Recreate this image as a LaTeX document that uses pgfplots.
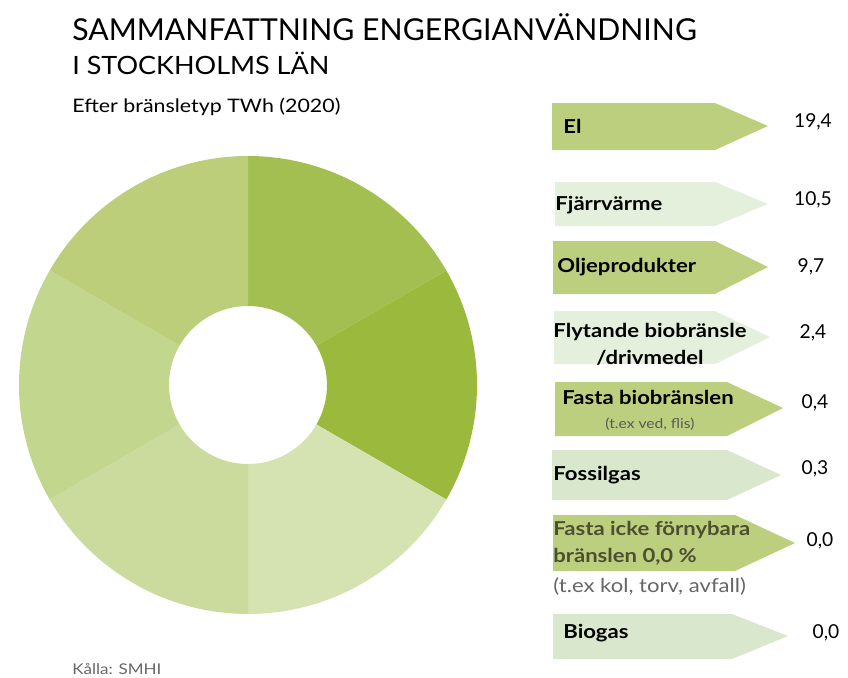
\documentclass[border=0pt]{standalone}
\usepackage{pgfplots}
\pgfplotsset{compat=1.18}
\usepackage{fontspec}
\setmainfont{Lato}
\newfontfamily\wide[FakeStretch=1.15]{Lato}
\newfontfamily\sub[FakeStretch=1.07]{Lato}
\usetikzlibrary{calc}
% donut segments, clockwise from 12 o'clock
\definecolor{segA}{HTML}{A3BF51}
\definecolor{segB}{HTML}{9BB93D}
\definecolor{segC}{HTML}{D5E3B2}
\definecolor{segD}{HTML}{CBDB9E}
\definecolor{segE}{HTML}{C3D68D}
\definecolor{segF}{HTML}{BCCE7A}
% arrow fills
\definecolor{arrDark}{HTML}{BCCF7F}
\definecolor{arrPale}{HTML}{E5F0DC}
\definecolor{arrLight}{HTML}{D9E8CC}
\definecolor{oliveText}{HTML}{4D5030}

\newcommand{\lab}{\wide\fontsize{9.6}{13.5}\selectfont\bfseries}
\newcommand{\val}{\fontsize{9.6}{12}\selectfont}

\begin{document}
\begin{tikzpicture}
\begin{axis}[
  x=0.5pt, y=0.5pt,
  xmin=0, xmax=848, ymin=0, ymax=677,
  scale only axis, hide axis, clip=false,
]
\path (axis cs:0,0) rectangle (axis cs:848,677);

% ---- donut: six equal segments
\coordinate (C) at (axis cs:248,292);
\fill[segA] ($(C)+(90:114.5pt)$) arc[start angle=90,end angle=30,radius=114.5pt]
  -- ($(C)+(30:39.5pt)$) arc[start angle=30,end angle=90,radius=39.5pt] -- cycle;
\fill[segB] ($(C)+(30:114.5pt)$) arc[start angle=30,end angle=-30,radius=114.5pt]
  -- ($(C)+(-30:39.5pt)$) arc[start angle=-30,end angle=30,radius=39.5pt] -- cycle;
\fill[segC] ($(C)+(-30:114.5pt)$) arc[start angle=-30,end angle=-90,radius=114.5pt]
  -- ($(C)+(-90:39.5pt)$) arc[start angle=-90,end angle=-30,radius=39.5pt] -- cycle;
\fill[segD] ($(C)+(-90:114.5pt)$) arc[start angle=-90,end angle=-150,radius=114.5pt]
  -- ($(C)+(-150:39.5pt)$) arc[start angle=-150,end angle=-90,radius=39.5pt] -- cycle;
\fill[segE] ($(C)+(210:114.5pt)$) arc[start angle=210,end angle=150,radius=114.5pt]
  -- ($(C)+(150:39.5pt)$) arc[start angle=150,end angle=210,radius=39.5pt] -- cycle;
\fill[segF] ($(C)+(150:114.5pt)$) arc[start angle=150,end angle=90,radius=114.5pt]
  -- ($(C)+(90:39.5pt)$) arc[start angle=90,end angle=150,radius=39.5pt] -- cycle;

% ---- arrow tags
\addplot[draw=none, fill=arrDark]  coordinates {(552,574) (715,574) (768,551) (715,527) (552,527)} -- cycle;
\addplot[draw=none, fill=arrPale]  coordinates {(555,495) (715,495) (768,473) (715,451) (555,451)} -- cycle;
\addplot[draw=none, fill=arrDark]  coordinates {(553,436) (715,436) (768,410) (715,383) (553,383)} -- cycle;
\addplot[draw=none, fill=arrPale]  coordinates {(554,366) (715,366) (770,340) (715,313) (554,313)} -- cycle;
\addplot[draw=none, fill=arrDark]  coordinates {(555,295) (727,295) (783,269) (727,241) (555,241)} -- cycle;
\addplot[draw=none, fill=arrLight] coordinates {(552,227) (727,227) (781,202) (727,177) (552,177)} -- cycle;
\addplot[draw=none, fill=arrDark]  coordinates {(553,162) (735,162) (795,134) (735,106) (553,106)} -- cycle;
\addplot[draw=none, fill=arrLight] coordinates {(553,63) (732,63) (788,41) (732,18) (553,18)} -- cycle;

% ---- labels
\node[anchor=west, inner sep=0pt, font=\lab] at (axis cs:563,551) {El};
\node[anchor=west, inner sep=0pt, font=\lab] at (axis cs:555,472) {Fjärrvärme};
\node[anchor=west, inner sep=0pt, font=\lab] at (axis cs:557,410) {Oljeprodukter};
\node[align=center, font=\lab] at (axis cs:650,333) {Flytande biobränsle\\/drivmedel};
\node[font=\lab] at (axis cs:648,280) {Fasta biobränslen};
\node[font=\wide\fontsize{6.8}{8}\selectfont, text=black!65] at (axis cs:650,253) {(t.ex ved, flis)};
\node[anchor=west, inner sep=0pt, font=\lab] at (axis cs:553,202) {Fossilgas};
\node[anchor=west, inner sep=0pt, align=left, font=\lab, text=oliveText] at (axis cs:553,134) {Fasta icke förnybara\\bränslen 0,0 \%};
\node[anchor=west, inner sep=0pt, font=\wide\fontsize{9.6}{12}\selectfont, text=black!60] at (axis cs:553,91) {(t.ex kol, torv, avfall)};
\node[anchor=west, inner sep=0pt, font=\lab] at (axis cs:563,44) {Biogas};

% ---- values (TWh)
\node[font=\val] at (axis cs:813,555) {19,4};
\node[font=\val] at (axis cs:813,477) {10,5};
\node[font=\val] at (axis cs:811,410) {9,7};
\node[font=\val] at (axis cs:813,344) {2,4};
\node[font=\val] at (axis cs:815,274) {0,4};
\node[font=\val] at (axis cs:815,208) {0,3};
\node[font=\val] at (axis cs:820,136) {0,0};
\node[font=\val] at (axis cs:826,44) {0,0};

% ---- titles and source
\node[anchor=base west, inner sep=0pt, font=\fontsize{15.1}{18}\selectfont] at (axis cs:72,637) {SAMMANFATTNING ENGERGIANVÄNDNING};
\node[anchor=base west, inner sep=0pt, font=\sub\fontsize{12.6}{14}\selectfont] at (axis cs:72,603) {I STOCKHOLMS LÄN};
\node[anchor=base west, inner sep=0pt, font=\wide\fontsize{9.3}{11}\selectfont] at (axis cs:72,565) {Efter bränsletyp TWh (2020)};
\node[anchor=base west, inner sep=0pt, font=\wide\fontsize{7.4}{9}\selectfont, text=black!60] at (axis cs:72,3) {Kålla: SMHI};
\end{axis}
\end{tikzpicture}
\end{document}
